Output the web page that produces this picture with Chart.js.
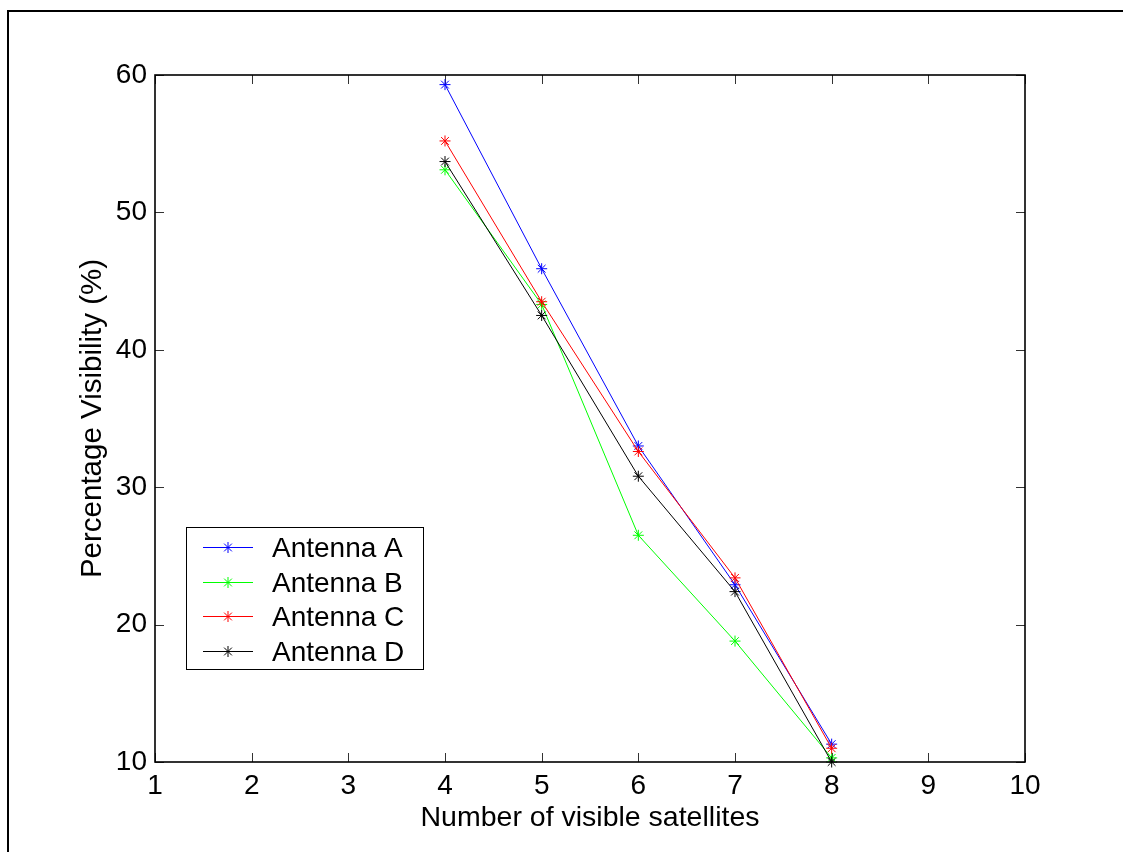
<!DOCTYPE html>
<html>
<head>
<meta charset="utf-8">
<title>Percentage Visibility</title>
<script src="https://cdn.jsdelivr.net/npm/chart.js@4.4.1/dist/chart.umd.min.js"></script>
<style>
    body { margin: 0; background: #fff; }
    #caixa { position: relative; width: 1123px; height: 852px; overflow: hidden; }
    /* frame line around the figure (top and left only) */
    #moldura { position: absolute; left: 7px; top: 10px; right: -10px; bottom: -10px; border-top: 2px solid #000; border-left: 2px solid #000; }
    #grafico { position: absolute; left: 0; top: 0; }
</style>
</head>
<body>
<div id="caixa">
    <div id="moldura"></div>
    <canvas id="grafico" width="1123" height="852"></canvas>
</div>
<script>
// dados
const satelites = [4, 5, 6, 7, 8];
const antenaA = [59.3, 45.9, 33.0, 22.9, 11.3];
const antenaB = [53.1, 43.3, 26.5, 18.8, 10.3];
const antenaC = [55.2, 43.5, 32.6, 23.4, 11.0];
const antenaD = [53.7, 42.5, 30.8, 22.4, 10.0];
const nomes = ['Antenna A', 'Antenna B', 'Antenna C', 'Antenna D'];
const cores = ['#0000ff', '#00ff00', '#ff0000', '#000000'];
const ticksX = [1, 2, 3, 4, 5, 6, 7, 8, 9, 10];
const ticksY = [10, 20, 30, 40, 50, 60];

const familia = "'Liberation Sans', Arial, sans-serif";
const fonte = { family: familia, size: 28 };

function pontos(valores) {
    return satelites.map((s, i) => ({ x: s, y: valores[i] }));
}

// desenha o asterisco (estilo matlab)
function estrela(ctx, x, y, r) {
    const d = r * Math.SQRT1_2;
    ctx.moveTo(x - r, y); ctx.lineTo(x + r, y);
    ctx.moveTo(x, y - r); ctx.lineTo(x, y + r);
    ctx.moveTo(x - d, y - d); ctx.lineTo(x + d, y + d);
    ctx.moveTo(x - d, y + d); ctx.lineTo(x + d, y - d);
}

// caixa dos eixos com ticks pra dentro
const eixos = {
    id: 'eixos',
    beforeDatasetsDraw(chart) {
        const ctx = chart.ctx;
        const { left, right, top, bottom } = chart.chartArea;
        const sx = chart.scales.x, sy = chart.scales.y;
        ctx.save();
        ctx.strokeStyle = '#333';
        ctx.lineWidth = 1;
        ctx.beginPath();
        ticksX.forEach(v => {
            const px = Math.round(sx.getPixelForValue(v)) + 0.5;
            ctx.moveTo(px, bottom); ctx.lineTo(px, bottom - 9);
            ctx.moveTo(px, top); ctx.lineTo(px, top + 9);
        });
        ticksY.forEach(v => {
            const py = Math.round(sy.getPixelForValue(v)) + 0.5;
            ctx.moveTo(left, py); ctx.lineTo(left + 9, py);
            ctx.moveTo(right, py); ctx.lineTo(right - 9, py);
        });
        ctx.stroke();
        ctx.strokeStyle = '#000';
        ctx.lineWidth = 1.6;
        ctx.strokeRect(left, top, right - left, bottom - top);
        ctx.restore();
    }
};

// legenda dentro da area do grafico
const legenda = {
    id: 'legenda',
    afterDraw(chart) {
        const ctx = chart.ctx;
        const area = chart.chartArea;
        const x0 = area.left + 31, y0 = area.top + 452;
        const larg = 237, alt = 142, passo = 34.6;
        ctx.save();
        ctx.fillStyle = '#fff';
        ctx.fillRect(x0, y0, larg, alt);
        ctx.strokeStyle = '#000';
        ctx.lineWidth = 1;
        ctx.strokeRect(x0 + 0.5, y0 + 0.5, larg, alt);
        chart.data.datasets.forEach((ds, i) => {
            const yy = Math.round(y0 + 20 + i * passo) + 0.5;
            ctx.strokeStyle = ds.borderColor;
            ctx.beginPath();
            ctx.moveTo(x0 + 17, yy); ctx.lineTo(x0 + 67, yy);
            estrela(ctx, x0 + 42, yy, 5.5);
            ctx.stroke();
            ctx.fillStyle = '#000';
            ctx.font = fonte.size + 'px ' + fonte.family;
            ctx.textAlign = 'left';
            ctx.textBaseline = 'middle';
            ctx.fillText(ds.label, x0 + 86, yy + 1.5);
        });
        ctx.restore();
    }
};

const series = [antenaA, antenaB, antenaC, antenaD];

new Chart(document.getElementById('grafico'), {
    type: 'line',
    data: {
        datasets: series.map((valores, i) => ({
            label: nomes[i],
            data: pontos(valores),
            borderColor: cores[i],
            backgroundColor: cores[i],
            borderWidth: 1,
            tension: 0,
            pointStyle: 'star',
            pointRadius: 5.5,
            pointBorderWidth: 1,
            pointBorderColor: cores[i],
            clip: false,
            order: series.length - i
        }))
    },
    options: {
        responsive: false,
        animation: false,
        devicePixelRatio: 1,
        layout: { padding: { top: 75, right: 98, bottom: 0, left: 0 } },
        plugins: { legend: { display: false }, tooltip: { enabled: false } },
        scales: {
            x: {
                type: 'linear',
                min: 1,
                max: 10,
                afterBuildTicks: s => { s.ticks = ticksX.map(v => ({ value: v })); },
                afterFit: s => { s.height = 90; },
                grid: { display: false, drawTicks: false },
                border: { display: false },
                ticks: { color: '#000', font: fonte, padding: 7, maxRotation: 0, autoSkip: false },
                title: { display: true, text: 'Number of visible satellites', color: '#000', font: { family: familia, size: 28.5 }, padding: { top: 0, bottom: 17 } }
            },
            y: {
                type: 'linear',
                min: 10,
                max: 60,
                afterBuildTicks: s => { s.ticks = ticksY.map(v => ({ value: v })); },
                afterFit: s => { s.width = 155; },
                grid: { display: false, drawTicks: false },
                border: { display: false },
                ticks: { color: '#000', font: fonte, padding: 8, autoSkip: false },
                title: { display: true, text: 'Percentage Visibility (%)', color: '#000', font: { family: familia, size: 29.5 }, padding: { top: 75, bottom: 0 } }
            }
        }
    },
    plugins: [eixos, legenda]
});
</script>
</body>
</html>
